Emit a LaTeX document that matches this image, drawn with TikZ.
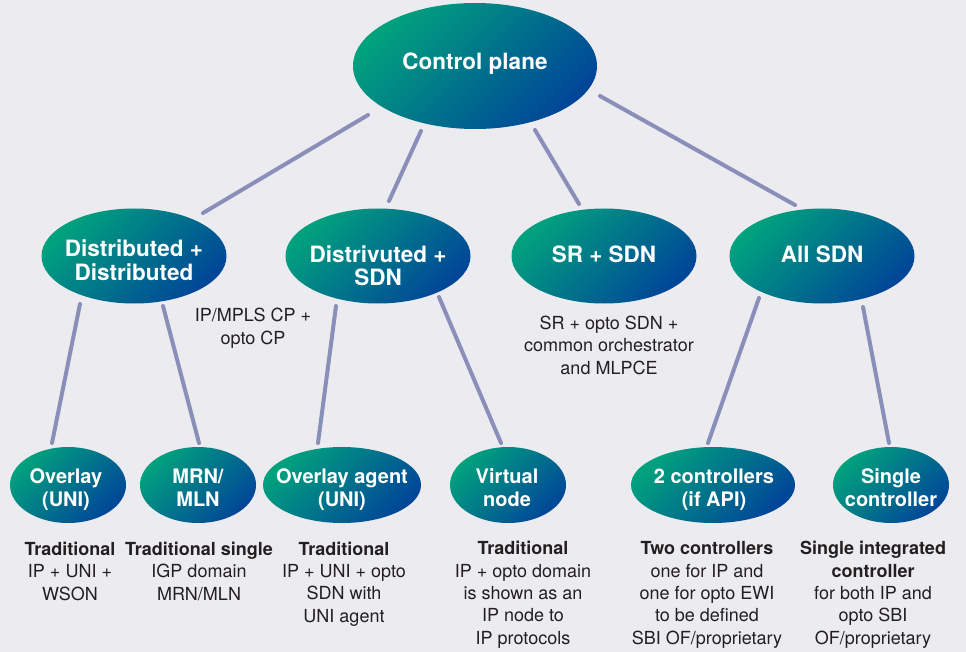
\documentclass[tikz,border=0pt]{standalone}
\usepackage{fontspec}
\setmainfont{TeX Gyre Heros}
\usetikzlibrary{shapes.geometric}
\definecolor{bg}{RGB}{236,236,240}
\definecolor{cgreen}{RGB}{0,162,125}
\definecolor{cblue}{RGB}{0,70,152}
\definecolor{lnc}{RGB}{138,143,185}
\definecolor{txt}{RGB}{35,31,32}
\begin{document}
\begin{tikzpicture}[x=1pt,y=-1pt,
  ell/.style={ellipse, inner sep=0pt, draw=none, left color=cgreen, right color=cblue, shading angle=45},
  topell/.style={ell, minimum width=244pt, minimum height=126pt},
  midell/.style={ell, minimum width=185pt, minimum height=95pt},
  botell/.style={ell, minimum height=76pt},
  conn/.style={line width=4pt, draw=lnc, line cap=round},
  ttop/.style={text=white, font=\bfseries\fontsize{22.5}{24}\selectfont, align=center, anchor=base, inner sep=0pt},
  tbot/.style={text=white, font=\bfseries\fontsize{20}{23}\selectfont, align=center, anchor=base, inner sep=0pt},
  desc/.style={text=txt, font=\fontsize{18}{22.3}\selectfont, align=center, anchor=base, inner sep=0pt},
]
\fill[bg] (0,0) rectangle (966,652);
\useasboundingbox (0,0) rectangle (966,652);

% ellipses
\node[topell] (cp) at (475,66) {};
\node[midell] (dd) at (134,256) {};
\node[midell] (ds) at (378,256) {};
\node[midell] (sr) at (604,256) {};
\node[midell] (al) at (822,256) {};
\node[botell, minimum width=116pt] (ov) at (68,485) {};
\node[botell, minimum width=116pt] (mr) at (198,485) {};
\node[botell, minimum width=158pt] (oa) at (342,485) {};
\node[botell, minimum width=116pt] (vn) at (508,485) {};
\node[botell, minimum width=164pt] (tc) at (713,485) {};
\node[botell, minimum width=116pt] (sc) at (891,485) {};

% ellipse texts (anchor base = baseline of last line)
\node[ttop] (cpt) at (475,70) {Control plane};
\node[ttop] (ddt) at (134,280) {Distributed +\\Distributed};
\node[ttop] (dst) at (378,286) {Distrivuted +\\SDN};
\node[ttop] (srt) at (604,263) {SR + SDN};
\node[ttop] (alt) at (822,263) {All SDN};
\node[tbot] (ovt) at (66,506) {Overlay\\(UNI)};
\node[tbot] (mrt) at (198,506) {MRN/\\MLN};
\node[tbot] (oat) at (342,506) {Overlay agent\\(UNI)};
\node[tbot] (vnt) at (507,506) {Virtual\\node};
\node[tbot] (tct) at (714,506) {2 controllers\\(if API)};
\node[tbot] (sct) at (891,506) {Single\\controller};

% connectors
\draw[conn] ([shift={(-107,49)}]cp.center) -- ([shift={(69,-43)}]dd.center);
\draw[conn] ([shift={(-54,65)}]cp.center) -- ([shift={(11,-55)}]ds.center);
\draw[conn] ([shift={(60,64)}]cp.center) -- ([shift={(-25,-52)}]sr.center);
\draw[conn] ([shift={(125,30)}]cp.center) -- ([shift={(-27,-51)}]al.center);
\draw[conn] ([shift={(-54,48)}]dd.center) -- ([shift={(-16,-42)}]ov.center);
\draw[conn] ([shift={(29,50)}]dd.center) -- ([shift={(1,-42)}]mr.center);
\draw[conn] ([shift={(-42,50)}]ds.center) -- ([shift={(-24,-42)}]oa.center);
\draw[conn] ([shift={(61,41)}]ds.center) -- ([shift={(-7,-42)}]vn.center);
\draw[conn] ([shift={(-63,42)}]al.center) -- ([shift={(-5,-42)}]tc.center);
\draw[conn] ([shift={(41,51)}]al.center) -- ([shift={(-2,-42)}]sc.center);

% captions
\node[desc] (c1) at (253,344) {IP/MPLS CP +\\opto CP};
\node[desc] (c2) at (609,374) {SR + opto SDN +\\common orchestrator\\and MLPCE};

% descriptions
\node[desc] (d1) at (70,600) {\textbf{Traditional}\\IP + UNI +\\WSON};
\node[desc] (d2) at (199,600) {\textbf{Traditional single}\\IGP domain\\MRN/MLN};
\node[desc] (d3) at (344,622) {\textbf{Traditional}\\IP + UNI + opto\\SDN with\\UNI agent};
\node[desc] (d4) at (523,644) {\textbf{Traditional}\\IP + opto domain\\is shown as an\\IP node to\\IP protocols};
\node[desc] (d5) at (707,644) {\textbf{Two controllers}\\one for IP and\\one for opto EWI\\to be defined\\SBI OF/proprietary};
\node[desc] (d6) at (873,644) {\textbf{Single integrated}\\\textbf{controller}\\for both IP and\\opto SBI\\OF/proprietary};
\end{tikzpicture}
\end{document}
